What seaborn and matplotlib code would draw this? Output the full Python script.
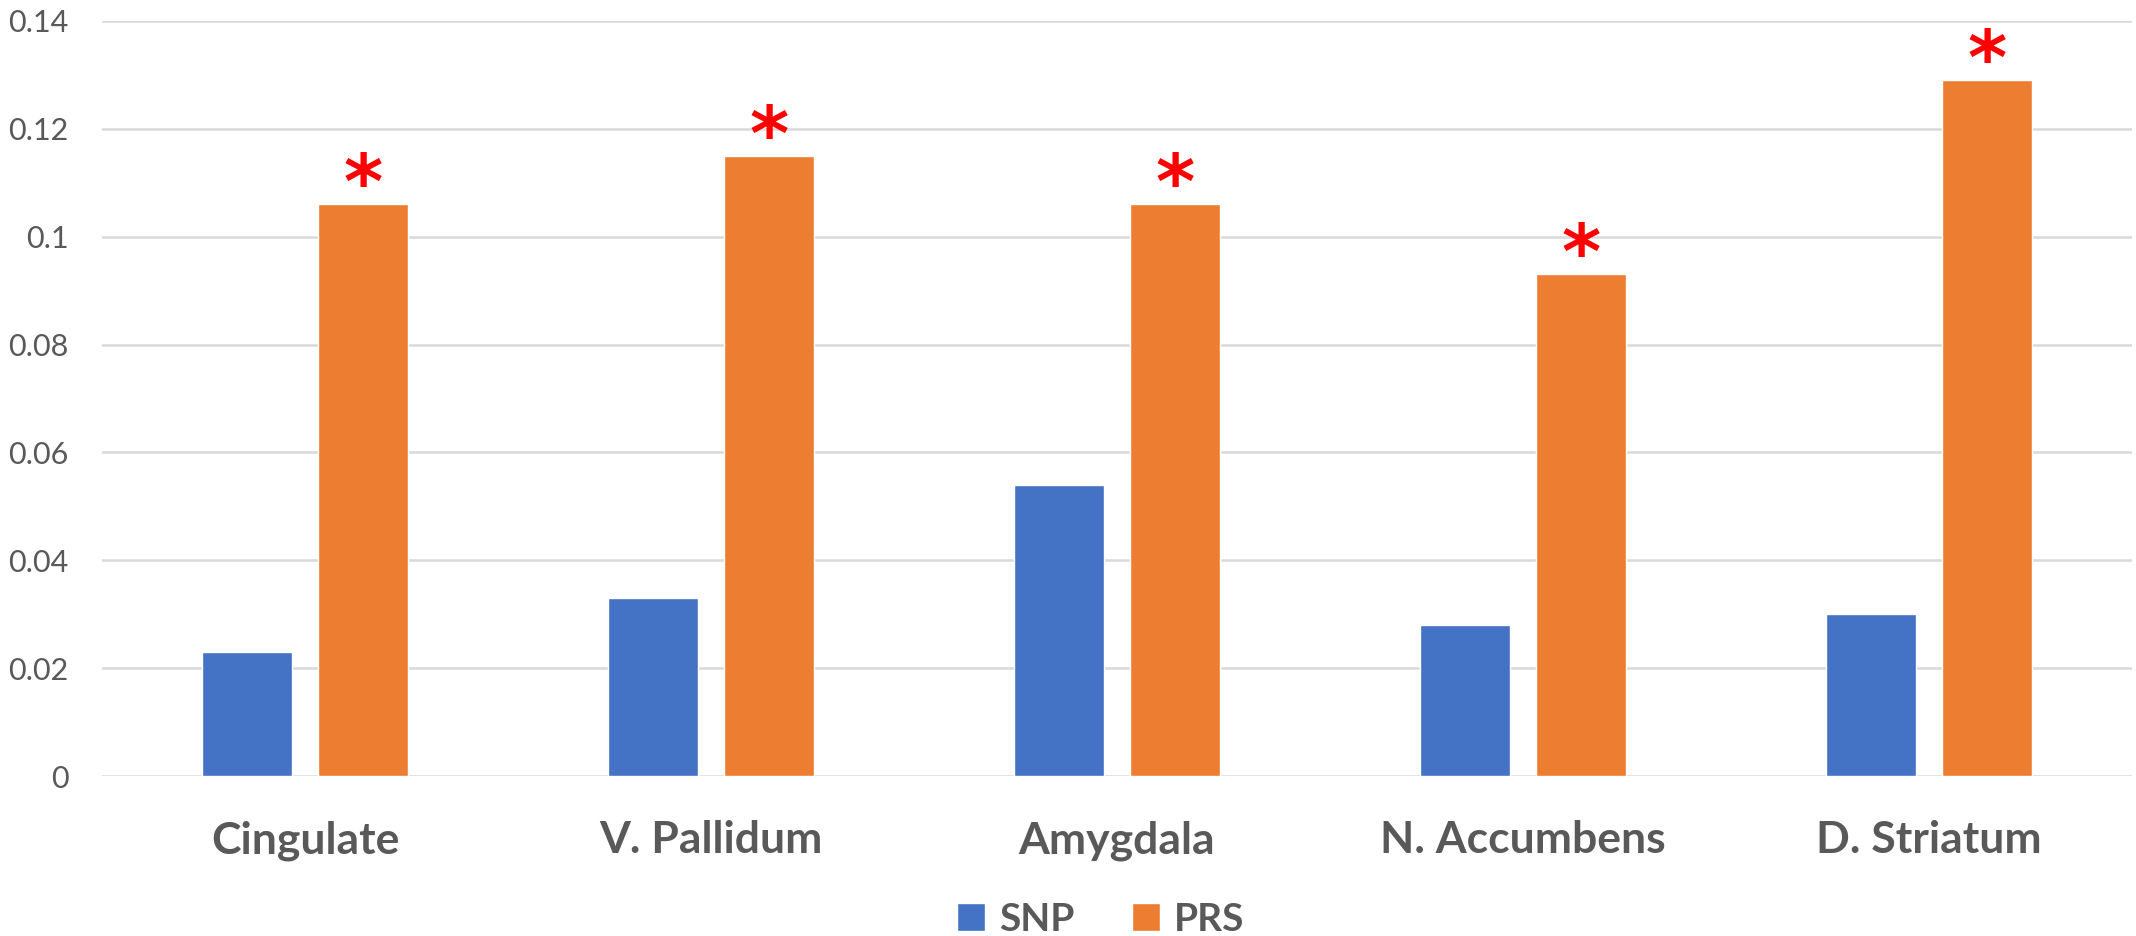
import matplotlib
matplotlib.use("Agg")
import matplotlib.pyplot as plt
import pandas as pd
import seaborn as sns

regions = ["Cingulate", "V. Pallidum", "Amygdala", "N. Accumbens", "D. Striatum"]
snp = [0.023, 0.033, 0.054, 0.028, 0.030]
prs = [0.106, 0.115, 0.106, 0.093, 0.129]
series = ["SNP", "PRS"]
colors = ["#4472C4", "#ED7D31"]
yticks = [0, 0.02, 0.04, 0.06, 0.08, 0.1, 0.12, 0.14]
ytick_labels = ["0", "0.02", "0.04", "0.06", "0.08", "0.1", "0.12", "0.14"]

df = pd.DataFrame({"region": regions * 2,
                   "series": ["SNP"] * len(regions) + ["PRS"] * len(regions),
                   "value": snp + prs})

sns.set_style("white")
plt.rcParams["font.family"] = ["Lato", "DejaVu Sans"]
grey = "#595959"

fig = plt.figure(figsize=(21.36, 9.36), dpi=100)
ax = fig.add_axes([102 / 2136, 160 / 936, 2030 / 2136, 755 / 936])

sns.barplot(data=df, x="region", y="value", hue="series", hue_order=series,
            palette=colors, width=0.571, gap=0.216, saturation=1, ax=ax,
            errorbar=None)

ax.set_ylim(0, 0.14)
ax.set_yticks(yticks)
ax.set_yticklabels(ytick_labels)
ax.set_xlim(-0.5, len(regions) - 0.5)
ax.yaxis.grid(True, color="#D9D9D9", linewidth=1.8)
ax.set_axisbelow(True)
for s in ax.spines.values():
    s.set_visible(False)
ax.set_xlabel("")
ax.set_ylabel("")
ax.tick_params(axis="y", length=0, pad=24, labelsize=22, labelcolor=grey)
ax.tick_params(axis="x", length=0, pad=32, labelcolor=grey)
for lab in ax.get_xticklabels():
    lab.set_fontsize(32)
    lab.set_fontweight("bold")

# significance stars over PRS bars
for bar in ax.containers[1]:
    ax.annotate("*", (bar.get_x() + bar.get_width() / 2, bar.get_height()),
                xytext=(0, 12), textcoords="offset points", ha="center",
                va="center", color="red", fontsize=54, fontweight="bold",
                family="DejaVu Sans")

sns.move_legend(ax, "center", bbox_to_anchor=(0.492, -0.19), ncol=2,
                frameon=False, title=None, fontsize=28, handlelength=0.72,
                handleheight=0.72, columnspacing=1.5, handletextpad=0.35)
for t in ax.get_legend().get_texts():
    t.set_color(grey)
    t.set_fontweight("bold")

fig.savefig("out.png", dpi=100)
